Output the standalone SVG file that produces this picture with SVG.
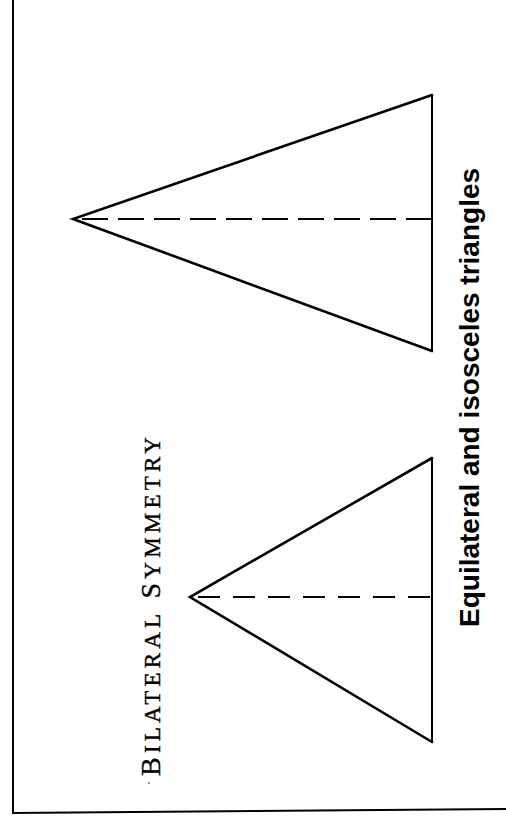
<svg xmlns="http://www.w3.org/2000/svg" width="506" height="820" viewBox="0 0 506 820">
<style>
.side{fill:none;stroke:#000;stroke-width:2.6;stroke-linejoin:miter;stroke-linecap:round}
.base{fill:none;stroke:#000;stroke-width:2}
.axis{fill:none;stroke:#000;stroke-width:2.2}
.frame{fill:none;stroke:#000;stroke-width:2}
.cap{font-family:"Liberation Serif","Times New Roman",serif;fill:#000;stroke:#000;stroke-width:0.4}
.lab{font-family:"Liberation Sans",Arial,sans-serif;font-weight:bold;fill:#000}
</style>
<rect width="506" height="820" fill="#fff"/>
<g id="frame">
<path class="frame" d="M13,0 L13,813 L506,809"/>
</g>
<g id="large-triangle">
<path class="side" d="M432,95 L73,219 L432,351"/>
<line class="base" x1="432" y1="95" x2="432" y2="351"/>
</g>
<g id="small-triangle">
<path class="side" d="M432,458 L190,597 L432,742"/>
<line class="base" x1="432" y1="458" x2="432" y2="742"/>
</g>
<g id="connectors">
<line class="axis" x1="76" y1="219" x2="432" y2="219" stroke-dasharray="26 10" stroke-dashoffset="-6"/>
<line class="axis" x1="193" y1="597" x2="432" y2="597" stroke-dasharray="22 13" stroke-dashoffset="-5"/>
</g>
<g id="title">
<text class="cap" transform="translate(160,776) rotate(-90)" font-size="28" letter-spacing="4.2">B<tspan font-size="23">ILATERAL</tspan> S<tspan font-size="23">YMMETRY</tspan></text>
</g>
<g id="caption">
<text class="lab" transform="translate(479,627) rotate(-90)" font-size="28">Equilateral and isosceles triangles</text>
</g>
<circle cx="149" cy="783" r="0.8" fill="#000"/>
</svg>
